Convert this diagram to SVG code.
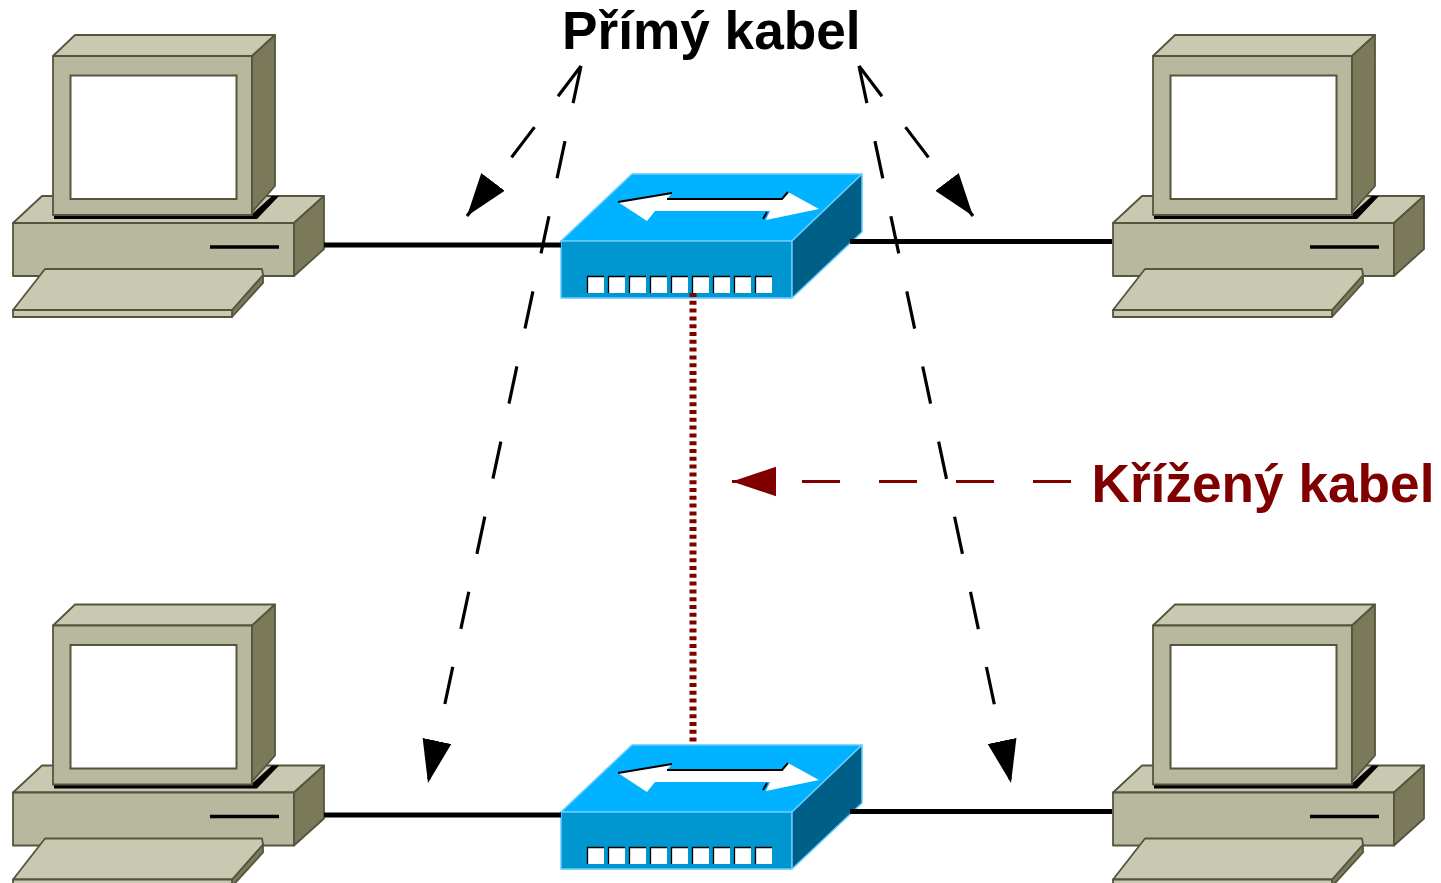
<svg xmlns="http://www.w3.org/2000/svg" width="1441" height="883" viewBox="0 0 1441 883">
<style>
.pc{stroke:#55553d;stroke-width:1.800;stroke-linejoin:round}
.t{fill:#c9c9b1}.f{fill:#b8b89e}.s{fill:#7a7a5a}
.sw{stroke:#66ccff;stroke-width:1.500;stroke-linejoin:round}
.cable{stroke:#000;stroke-width:5;fill:none}
.cross{stroke:#800000;stroke-width:7;stroke-dasharray:4 3.800;fill:none}
.ptr{stroke:#000;stroke-width:3.200;stroke-dasharray:38 38.800;fill:none;marker-end:url(#ah)}
.ptr2{stroke:#800000;stroke-width:3.200;stroke-dasharray:38 39;fill:none;marker-end:url(#ahr)}
.lab{font-family:"Liberation Sans",Arial,sans-serif;font-weight:700;font-size:53.200px}
</style>
<defs>
<marker id="ah" markerUnits="userSpaceOnUse" markerWidth="44" markerHeight="32" viewBox="0 -15 42 30" refX="41" refY="0" orient="auto"><path d="M0,-14L41,0L0,14Z" fill="#000"/></marker>
<marker id="ahr" markerUnits="userSpaceOnUse" markerWidth="44" markerHeight="32" viewBox="0 -15 42 30" refX="42" refY="0" orient="auto"><path d="M0,-14L42,0L0,14Z" fill="#800000"/></marker>
<g id="pcShape">
<path class="pc t" d="M13,223L42,196H324L294,223Z"/>
<path class="pc f" d="M13,223H294V276H13Z"/>
<path class="pc s" d="M294,223L324,196V249L294,276Z"/>
<path d="M54,214H252L272,196H279L257,219H54Z" fill="#000"/>
<path class="pc t" d="M53,56L75,35H275L252,56Z"/>
<path class="pc f" d="M53,56H252V215H53Z"/>
<path class="pc s" d="M252,56L275,35V186L252,212Z"/>
<path d="M70.500,75.500H236.500V199H70.500Z" fill="#fff" stroke="#55553d" stroke-width="2"/>
<path d="M210,247H279" stroke="#000" stroke-width="3.500"/>
<path class="pc s" d="M232,310L263,275V283L232,317Z"/>
<path class="pc t" d="M13,310L45,269H262L263,275L232,310Z"/>
<path class="pc t" d="M13,310H232V317H13Z"/>
</g>
<g id="swShape">
<path class="sw" fill="#00b2ff" d="M561,241L632,174H862L792,241Z"/>
<path class="sw" fill="#0096d0" d="M561,241H792V298H561Z"/>
<path class="sw" fill="#005f87" d="M792,241L862,174V232L792,298Z"/>
<path fill="#fff" d="M618,202L672,193L667,199H782L788,192L819,209L766,220L770,211H655L647,221Z"/>
<path fill="none" stroke="#000" stroke-width="2" d="M618,202L672,193M667,199H782L788,192M767,212L763,219"/>
<g fill="#fff">
<rect x="587" y="276" width="17" height="17"/><rect x="608" y="276" width="17" height="17"/><rect x="629" y="276" width="17" height="17"/><rect x="650" y="276" width="17" height="17"/><rect x="671" y="276" width="17" height="17"/><rect x="692" y="276" width="17" height="17"/><rect x="713" y="276" width="17" height="17"/><rect x="734" y="276" width="17" height="17"/><rect x="755" y="276" width="17" height="17"/>
</g>
<path fill="none" stroke="#000" stroke-width="1.300" d="M587.500,293V276.500H604M608.500,293V276.500H625M629.500,293V276.500H646M650.500,293V276.500H667M671.500,293V276.500H688M692.500,293V276.500H709M713.500,293V276.500H730M734.500,293V276.500H751M755.500,293V276.500H772"/>
</g>
</defs>
<rect width="1441" height="883" fill="#fff"/>
<g id="pc-top-left"><use href="#pcShape"/></g>
<g id="pc-top-right"><use href="#pcShape" transform="translate(1100,0)"/></g>
<g id="pc-bottom-left"><use href="#pcShape" transform="translate(0,569.500)"/></g>
<g id="pc-bottom-right"><use href="#pcShape" transform="translate(1100,569.500)"/></g>
<g id="switch-top"><use href="#swShape"/></g>
<g id="switch-bottom"><use href="#swShape" transform="translate(0,571)"/></g>
<g id="connectors">
<path class="cable" d="M324,245H561"/>
<path class="cable" d="M850,241.500H1112"/>
<path class="cable" d="M324,815H561"/>
<path class="cable" d="M850,811.500H1112"/>
<path class="cross" d="M693,293V743"/>
<path class="ptr" d="M581,66L467,216"/>
<path class="ptr" d="M581,66L428,783"/>
<path class="ptr" d="M859,66L973,216"/>
<path class="ptr" d="M859,66L1011,783"/>
<path class="ptr2" d="M1071,481.500H732"/>
</g>
<g id="label-straight"><text class="lab" x="562" y="49" fill="#000">Přímý kabel</text></g>
<g id="label-cross"><text class="lab" x="1091.500" y="502" fill="#800000">Křížený kabel</text></g>
</svg>
